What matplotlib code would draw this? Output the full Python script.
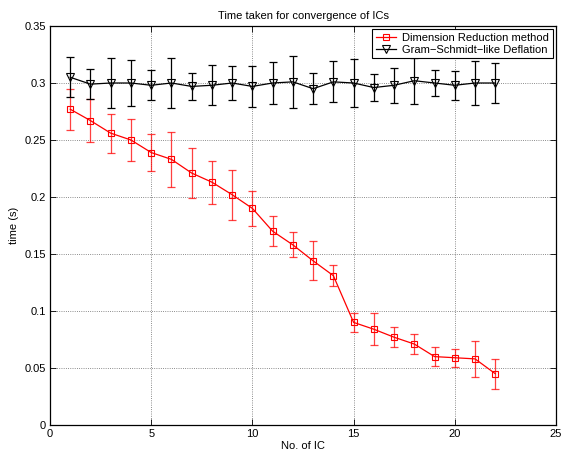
import numpy as np
import matplotlib
matplotlib.use('Agg')
from matplotlib import pyplot as plt

plt.rc('font', family='Liberation Sans', size=8)

ic = np.arange(1, 23)

# Dimension Reduction method
dr_mean = [0.277, 0.267, 0.256, 0.250, 0.239, 0.233, 0.221, 0.213, 0.202, 0.190, 0.170,
           0.158, 0.144, 0.131, 0.090, 0.084, 0.077, 0.071, 0.060, 0.059, 0.058, 0.045]
dr_err = [0.018, 0.019, 0.017, 0.018, 0.016, 0.024, 0.022, 0.019, 0.022, 0.015, 0.013,
          0.011, 0.017, 0.009, 0.008, 0.014, 0.009, 0.009, 0.008, 0.008, 0.016, 0.013]

# Gram-Schmidt-like Deflation
gs_mean = [0.305, 0.299, 0.300, 0.300, 0.298, 0.300, 0.297, 0.298, 0.300, 0.297, 0.300,
           0.301, 0.295, 0.301, 0.300, 0.296, 0.298, 0.302, 0.300, 0.298, 0.300, 0.300]
gs_err = [0.0175, 0.013, 0.022, 0.020, 0.013, 0.022, 0.012, 0.0175, 0.015, 0.018, 0.018,
          0.023, 0.0135, 0.018, 0.021, 0.012, 0.0155, 0.020, 0.0115, 0.0125, 0.019, 0.0175]

fig = plt.figure(figsize=(5.61, 4.58), dpi=100)
ax = fig.add_axes([50/561, 1 - 425/458, 506/561, 399/458])

red = '#ff0000'
ax.errorbar(ic, dr_mean, yerr=dr_err, fmt='none', ecolor=red, elinewidth=0.9,
            capsize=3, capthick=0.9, alpha=0.75)
ax.plot(ic, dr_mean, color=red, marker='s', ms=5, mfc='none', mew=0.8, lw=0.9,
        label='Dimension Reduction method')
ax.errorbar(ic, gs_mean, yerr=gs_err, fmt='none', ecolor='k', elinewidth=0.9,
            capsize=3, capthick=0.9)
ax.plot(ic, gs_mean, color='k', marker='v', ms=6, mfc='none', mew=0.8, lw=0.9,
        label='Gram\u2212Schmidt\u2212like Deflation')

ax.set_xlim(0, 25)
ax.set_ylim(0, 0.35)
ax.set_xticks([0, 5, 10, 15, 20, 25])
ax.set_yticks([0, 0.05, 0.1, 0.15, 0.2, 0.25, 0.3, 0.35])
ax.set_yticklabels(['0', '0.05', '0.1', '0.15', '0.2', '0.25', '0.3', '0.35'])
ax.tick_params(direction='in', top=True, right=True, length=4, width=0.6, pad=3)
ax.grid(ls=':', color='k', lw=0.6, alpha=0.6)
for s in ax.spines.values():
    s.set_linewidth(0.9)

ax.set_title('Time taken for convergence of ICs', fontsize=8, pad=5)
ax.set_xlabel('No. of IC', labelpad=1)
ax.set_ylabel('time (s)', labelpad=4)

leg = ax.legend(loc='upper right', fancybox=False, edgecolor='k', framealpha=1,
                borderaxespad=0.3, handlelength=1.8, borderpad=0.3, labelspacing=0.2,
                handletextpad=0.6)
leg.get_frame().set_linewidth(0.8)

plt.savefig('out.png', dpi=100)
